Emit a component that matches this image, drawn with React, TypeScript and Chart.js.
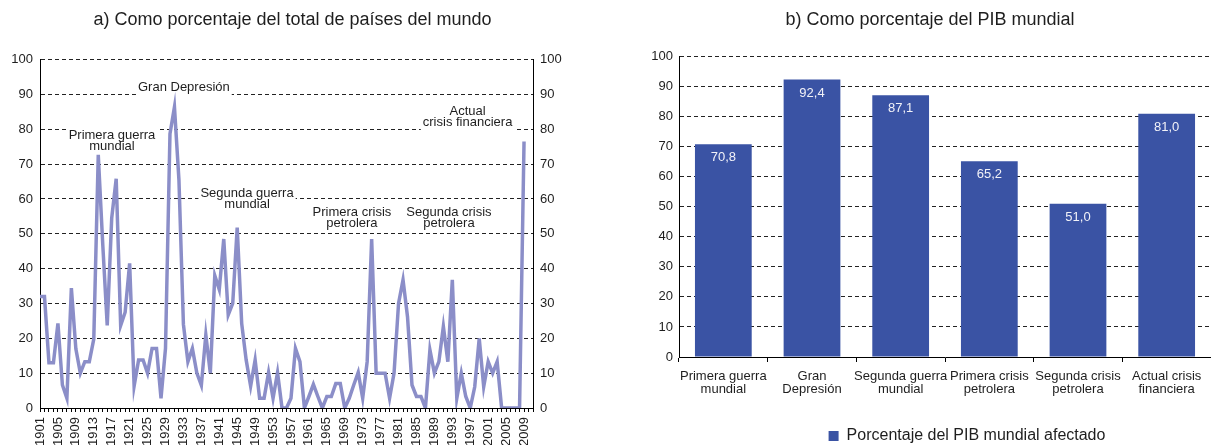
import React, { useEffect, useRef } from 'react';
import { Chart, registerables } from 'chart.js';

Chart.register(...registerables);

const FONT = '"Liberation Sans", Arial, Helvetica, sans-serif';
const TEXT = '#1e1e1e';
const GRID = '#222222';

// ---- Left chart: share of world countries in crisis (annual, 1901-2009) ----
const years: string[] = [
  '1901', '1902', '1903', '1904', '1905', '1906', '1907', '1908', '1909', '1910',
  '1911', '1912', '1913', '1914', '1915', '1916', '1917', '1918', '1919', '1920',
  '1921', '1922', '1923', '1924', '1925', '1926', '1927', '1928', '1929', '1930',
  '1931', '1932', '1933', '1934', '1935', '1936', '1937', '1938', '1939', '1940',
  '1941', '1942', '1943', '1944', '1945', '1946', '1947', '1948', '1949', '1950',
  '1951', '1952', '1953', '1954', '1955', '1956', '1957', '1958', '1959', '1960',
  '1961', '1962', '1963', '1964', '1965', '1966', '1967', '1968', '1969', '1970',
  '1971', '1972', '1973', '1974', '1975', '1976', '1977', '1978', '1979', '1980',
  '1981', '1982', '1983', '1984', '1985', '1986', '1987', '1988', '1989', '1990',
  '1991', '1992', '1993', '1994', '1995', '1996', '1997', '1998', '1999', '2000',
  '2001', '2002', '2003', '2004', '2005', '2006', '2007', '2008', '2009', '2010',
  '2011',
];

const countriesShare: number[] = [
  32, 32, 13, 13, 24.3, 6.6, 2.8, 34.4, 17, 10,
  13.3, 13.3, 19.8, 72.7, 47, 23.7, 54.5, 65.8, 23.7, 27.5,
  41.5, 6.3, 13.8, 13.8, 10, 17.1, 17.1, 2.8, 17.1, 78.7,
  86.4, 65.5, 24, 13.3, 17.1, 10, 6.5, 21, 10, 38,
  34, 48.5, 26.7, 30, 51.8, 24.3, 13.8, 6.3, 13.8, 2.8,
  2.8, 10.2, 2.8, 10.2, 0, 0, 2.8, 17.1, 13.3, 0,
  3.3, 6.8, 3.3, 0, 3.3, 3.3, 7, 7, 0, 2.8,
  6.6, 10.2, 2.8, 13.3, 48.5, 10, 10, 10, 2.8, 10,
  30, 36.8, 26.2, 6.6, 3.3, 3.3, 0, 16.7, 10, 13.3,
  23.4, 13.3, 36.8, 2.8, 10, 3.3, 0, 6.1, 20, 6.1,
  13.3, 10, 13.3, 0, 0, 0, 0, 0, 76.5,
];

const crisisNotes = [
  { lines: ['Primera guerra', 'mundial'], year: 1917.06, value: 78.2 },
  { lines: ['Gran Depresión'], year: 1933.1, value: 92 },
  { lines: ['Segunda guerra', 'mundial'], year: 1947.2, value: 61.5 },
  { lines: ['Primera crisis', 'petrolera'], year: 1970.6, value: 56 },
  { lines: ['Segunda crisis', 'petrolera'], year: 1992.25, value: 56 },
  { lines: ['Actual', 'crisis financiera'], year: 1996.4, value: 85 },
];

// ---- Right chart: share of world GDP affected ----
const crisisCategories: string[][] = [
  ['Primera guerra', 'mundial'],
  ['Gran', 'Depresión'],
  ['Segunda guerra', 'mundial'],
  ['Primera crisis', 'petrolera'],
  ['Segunda crisis', 'petrolera'],
  ['Actual crisis', 'financiera'],
];
const gdpShare: number[] = [70.8, 92.4, 87.1, 65.2, 51.0, 81.0];

const titleA = 'a) Como porcentaje del total de países del mundo';
const titleB = 'b) Como porcentaje del PIB mundial';
const legendLabel = 'Porcentaje del PIB mundial afectado';

const notesPlugin = {
  id: 'crisisNotes',
  beforeDatasetsDraw(chart: any) {
    const { ctx, scales } = chart;
    const x = scales.x;
    const y = scales.y;
    const base = Number(years[0]);
    ctx.save();
    ctx.font = `13px ${FONT}`;
    ctx.textAlign = 'center';
    ctx.textBaseline = 'middle';
    crisisNotes.forEach((n) => {
      const px = x.getPixelForValue(n.year - base);
      const py = y.getPixelForValue(n.value);
      const w = Math.max(...n.lines.map((l) => ctx.measureText(l).width)) + 4;
      const h = (n.lines.length - 1) * 11;
      ctx.fillStyle = '#ffffff';
      ctx.fillRect(px - w / 2, py - 9, w, h + 17);
      ctx.fillStyle = TEXT;
      n.lines.forEach((l, i) => ctx.fillText(l, px, py + i * 11));
    });
    ctx.restore();
  },
};

const valueLabelsPlugin = {
  id: 'valueLabels',
  afterDatasetsDraw(chart: any) {
    const meta = chart.getDatasetMeta(0);
    const ctx = chart.ctx;
    ctx.save();
    ctx.fillStyle = '#f2f2f8';
    ctx.font = `13px ${FONT}`;
    ctx.textAlign = 'center';
    ctx.textBaseline = 'middle';
    meta.data.forEach((el: any, i: number) => {
      const v = gdpShare[i];
      ctx.fillText(v.toFixed(1).replace('.', ','), el.x, el.y + 13.5);
    });
    ctx.restore();
  },
};

const legendShiftPlugin = {
  id: 'legendShift',
  afterLayout(chart: any) {
    const lg = chart.legend;
    if (!lg) return;
    lg.left += 37;
    lg.right += 37;
    lg.top += 9;
    lg.bottom += 9;
  },
};

function LeftChart() {
  const ref = useRef<HTMLCanvasElement | null>(null);
  useEffect(() => {
    if (!ref.current) return;
    const chart = new Chart(ref.current, {
      type: 'line',
      data: {
        labels: years,
        datasets: [
          {
            data: countriesShare,
            borderColor: '#8b8ec8',
            backgroundColor: '#8b8ec8',
            borderWidth: 3.5,
            pointRadius: 0,
            fill: false,
            tension: 0,
            yAxisID: 'y',
          },
        ],
      },
      options: {
        responsive: false,
        animation: false,
        events: [],
        layout: { padding: 0 },
        plugins: {
          legend: { display: false },
          tooltip: { enabled: false },
          title: {
            display: true,
            text: titleA,
            color: TEXT,
            font: { family: FONT, size: 18, weight: 'normal', lineHeight: 1.2 },
            padding: { top: 9, bottom: 29 },
          },
        },
        scales: {
          x: {
            type: 'category',
            offset: false,
            grid: {
              display: true,
              drawOnChartArea: false,
              drawTicks: true,
              tickLength: 4,
              color: '#000',
              offset: false,
            },
            border: { display: true, color: '#000', width: 1 },
            ticks: {
              autoSkip: false,
              maxRotation: 90,
              minRotation: 90,
              padding: 5,
              color: TEXT,
              font: { family: FONT, size: 13 },
              callback: (_v: any, i: number) => (i % 4 === 0 ? years[i] : ''),
            },
            afterFit: (s: any) => {
              s.height = 37;
            },
          },
          y: {
            position: 'left',
            min: 0,
            max: 100,
            ticks: { stepSize: 10, padding: 7, color: TEXT, font: { family: FONT, size: 13 } },
            grid: { color: GRID, drawTicks: false, lineWidth: 1 },
            border: { display: true, color: '#000', width: 1, dash: [4, 3] },
            afterFit: (s: any) => {
              s.width = 40;
            },
          },
          y2: {
            position: 'right',
            min: 0,
            max: 100,
            ticks: { stepSize: 10, padding: 7, color: TEXT, font: { family: FONT, size: 13 } },
            grid: { display: false, drawTicks: false },
            border: { display: true, color: '#000', width: 1 },
            afterFit: (s: any) => {
              s.width = 52;
            },
          },
        },
      } as any,
      plugins: [notesPlugin],
    });
    return () => chart.destroy();
  }, []);
  return (
    <canvas
      ref={ref}
      width={585}
      height={445}
      style={{ position: 'absolute', left: 0, top: 0, width: 585, height: 445 }}
    />
  );
}

function RightChart() {
  const ref = useRef<HTMLCanvasElement | null>(null);
  useEffect(() => {
    if (!ref.current) return;
    const chart = new Chart(ref.current, {
      type: 'bar',
      data: {
        labels: crisisCategories,
        datasets: [
          {
            label: legendLabel,
            data: gdpShare,
            backgroundColor: '#3a53a4',
            borderWidth: 0,
            categoryPercentage: 1,
            barPercentage: 0.64,
          },
        ],
      },
      options: {
        responsive: false,
        animation: false,
        events: [],
        layout: { padding: 0 },
        plugins: {
          tooltip: { enabled: false },
          title: {
            display: true,
            text: titleB,
            color: TEXT,
            font: { family: FONT, size: 18, weight: 'normal', lineHeight: 1.2 },
            padding: { top: 9, bottom: 26 },
          },
          legend: {
            display: true,
            position: 'bottom',
            labels: {
              boxWidth: 10,
              boxHeight: 10,
              padding: 1,
              color: TEXT,
              font: { family: FONT, size: 16 },
            },
          },
        },
        scales: {
          x: {
            grid: {
              display: true,
              drawOnChartArea: false,
              drawTicks: true,
              tickLength: 5,
              color: '#000',
              offset: true,
            },
            border: { display: true, color: '#000', width: 1 },
            ticks: {
              color: TEXT,
              font: { family: FONT, size: 13, lineHeight: 1 },
              padding: 8,
              maxRotation: 0,
              autoSkip: false,
            },
            afterFit: (s: any) => {
              s.height = 61;
            },
          },
          y: {
            min: 0,
            max: 100,
            ticks: { stepSize: 10, padding: 6, color: TEXT, font: { family: FONT, size: 13 } },
            grid: { color: GRID, drawTicks: false, lineWidth: 1 },
            border: { display: true, color: '#000', width: 1, dash: [4, 3] },
            afterFit: (s: any) => {
              s.width = 30;
            },
          },
        },
      } as any,
      plugins: [valueLabelsPlugin, legendShiftPlugin],
    });
    return () => chart.destroy();
  }, []);
  return (
    <canvas
      ref={ref}
      width={562}
      height={445}
      style={{ position: 'absolute', left: 649, top: 0, width: 562, height: 445 }}
    />
  );
}

export default function App() {
  useEffect(() => {
    document.body.style.margin = '0';
  }, []);
  return (
    <div style={{ position: 'relative', width: 1211, height: 445, overflow: 'hidden', background: '#fff' }}>
      <LeftChart />
      <RightChart />
    </div>
  );
}
